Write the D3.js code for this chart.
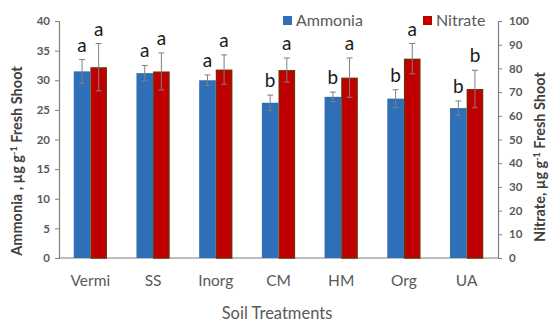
<!DOCTYPE html>
<html>
<head>
<meta charset="utf-8">
<script src="https://cdn.jsdelivr.net/npm/d3@7"></script>
<style>
  body { margin: 0; background: #fff; }
  text { font-family: Lato, "Open Sans", sans-serif; }
</style>
</head>
<body>
<svg width="550" height="336"></svg>
<script>
// data
var treatments = ["Vermi", "SS", "Inorg", "CM", "HM", "Org", "UA"];
var ammonia    = [31.5, 31.2, 30.0, 26.2, 27.2, 26.9, 25.3];
var ammoniaErr = [2.0, 1.3, 0.9, 1.3, 0.8, 1.5, 1.2];
var ammoniaSig = ["a", "a", "a", "b", "b", "b", "b"];
var nitrate    = [80.5, 78.7, 79.5, 79.3, 76.1, 84.1, 71.3];
var nitrateErr = [10.0, 7.8, 6.2, 5.1, 8.3, 6.4, 7.9];
var nitrateSig = ["a", "a", "a", "a", "a", "a", "b"];
var leftTicks  = [0, 5, 10, 15, 20, 25, 30, 35, 40];
var rightTicks = [0, 10, 20, 30, 40, 50, 60, 70, 80, 90, 100];

var svg = d3.select("svg");
// note: "top" is taken by window.top, so use plot* names
var plotLeft = 59, plotRight = 498, plotTop = 21, plotBottom = 258;
var blue = "#2E6FB7", red = "#C00000", redEdge = "#7A2A05", grey = "#595959";

var x = d3.scaleBand().domain(treatments).range([plotLeft, plotRight]).paddingInner(0.47).paddingOuter(0.235);
var sub = d3.scaleBand().domain(["a", "n"]).range([0, x.bandwidth()]);
var yL = d3.scaleLinear().domain([0, 40]).range([plotBottom, plotTop]);
var yR = d3.scaleLinear().domain([0, 100]).range([plotBottom, plotTop]);

// axes
var axL = svg.append("g").attr("transform", "translate(" + plotLeft + ",0)")
    .call(d3.axisLeft(yL).tickValues(leftTicks).tickSize(4).tickPadding(5));
var axR = svg.append("g").attr("transform", "translate(" + plotRight + ",0)")
    .call(d3.axisRight(yR).tickValues(rightTicks).tickSize(4).tickPadding(7));
[axL, axR].forEach(function(a) {
  a.select(".domain").attr("stroke", "#7f7f7f").attr("stroke-width", 1.2);
  a.selectAll(".tick line").attr("stroke", "#7f7f7f");
  a.selectAll(".tick text").attr("fill", grey).attr("font-size", 11.5).attr("font-weight", "bold");
});
// the bottom axis is only a line
svg.append("line").attr("x1", plotLeft).attr("x2", plotRight).attr("y1", plotBottom).attr("y2", plotBottom)
    .attr("stroke", "#7f7f7f").attr("stroke-width", 1.2);

// bars
var g = svg.append("g");
g.selectAll(".amm").data(treatments).enter().append("rect")
    .attr("x", function(d) { return x(d) + sub("a"); })
    .attr("y", function(d, i) { return yL(ammonia[i]); })
    .attr("width", sub.bandwidth())
    .attr("height", function(d, i) { return plotBottom - yL(ammonia[i]); })
    .attr("fill", blue);
g.selectAll(".nit").data(treatments).enter().append("rect")
    .attr("x", function(d) { return x(d) + sub("n") + 0.75; })
    .attr("y", function(d, i) { return yR(nitrate[i]) + 0.75; })
    .attr("width", sub.bandwidth() - 1.5)
    .attr("height", function(d, i) { return plotBottom - yR(nitrate[i]) - 0.75; })
    .attr("fill", red).attr("stroke", redEdge).attr("stroke-width", 1.5);

// error bars
function errBars(vals, errs, scale, key) {
  treatments.forEach(function(d, i) {
    var cx = x(d) + sub(key) + sub.bandwidth() / 2;
    var y1 = scale(vals[i] + errs[i]), y2 = scale(vals[i] - errs[i]);
    var e = g.append("g").attr("stroke", "#7f7f7f").attr("stroke-width", 1);
    e.append("line").attr("x1", cx).attr("x2", cx).attr("y1", y1).attr("y2", y2);
    e.append("line").attr("x1", cx - 3).attr("x2", cx + 3).attr("y1", y1).attr("y2", y1);
    e.append("line").attr("x1", cx - 3).attr("x2", cx + 3).attr("y1", y2).attr("y2", y2);
  });
}
errBars(ammonia, ammoniaErr, yL, "a");
errBars(nitrate, nitrateErr, yR, "n");

// significance letters
function letters(vals, errs, sig, scale, key) {
  g.selectAll(".sig" + key).data(treatments).enter().append("text")
    .attr("x", function(d) { return x(d) + sub(key) + sub.bandwidth() / 2; })
    .attr("y", function(d, i) { return scale(vals[i] + errs[i]) - 8; })
    .attr("text-anchor", "middle").attr("font-size", 19).attr("fill", "#1a1a1a")
    .text(function(d, i) { return sig[i]; });
}
letters(ammonia, ammoniaErr, ammoniaSig, yL, "a");
letters(nitrate, nitrateErr, nitrateSig, yR, "n");

// category labels
svg.selectAll(".cat").data(treatments).enter().append("text")
    .attr("x", function(d) { return x(d) + x.bandwidth() / 2; })
    .attr("y", 286).attr("text-anchor", "middle")
    .attr("font-size", 15.5).attr("fill", grey)
    .text(function(d) { return d; });

svg.append("text").attr("x", 277).attr("y", 319).attr("text-anchor", "middle")
    .attr("font-size", 16.5).attr("fill", grey).text("Soil Treatments");

// axis titles
svg.append("text").attr("transform", "translate(22,161) rotate(-90)")
    .attr("text-anchor", "middle").attr("font-size", 14.5).attr("font-weight", "bold").attr("fill", "#404040")
    .html("Ammonia , µg g<tspan dy='-5' font-size='9'>-1</tspan><tspan dy='5'> Fresh Shoot</tspan>");
svg.append("text").attr("transform", "translate(545,157) rotate(-90)")
    .attr("text-anchor", "middle").attr("font-size", 14.5).attr("font-weight", "bold").attr("fill", "#404040")
    .html("Nitrate, µg g<tspan dy='-5' font-size='9'>-1</tspan><tspan dy='5'> Fresh Shoot</tspan>");

// legend
var legend = [{name: "Ammonia", color: blue, x: 283}, {name: "Nitrate", color: red, x: 423}];
var lg = svg.selectAll(".leg").data(legend).enter().append("g")
    .attr("transform", function(d) { return "translate(" + d.x + ",16)"; });
lg.append("rect").attr("width", 9).attr("height", 9).attr("fill", function(d) { return d.color; });
lg.append("text").attr("x", 13).attr("y", 10).attr("font-size", 16).attr("fill", grey)
    .text(function(d) { return d.name; });
</script>
</body>
</html>
